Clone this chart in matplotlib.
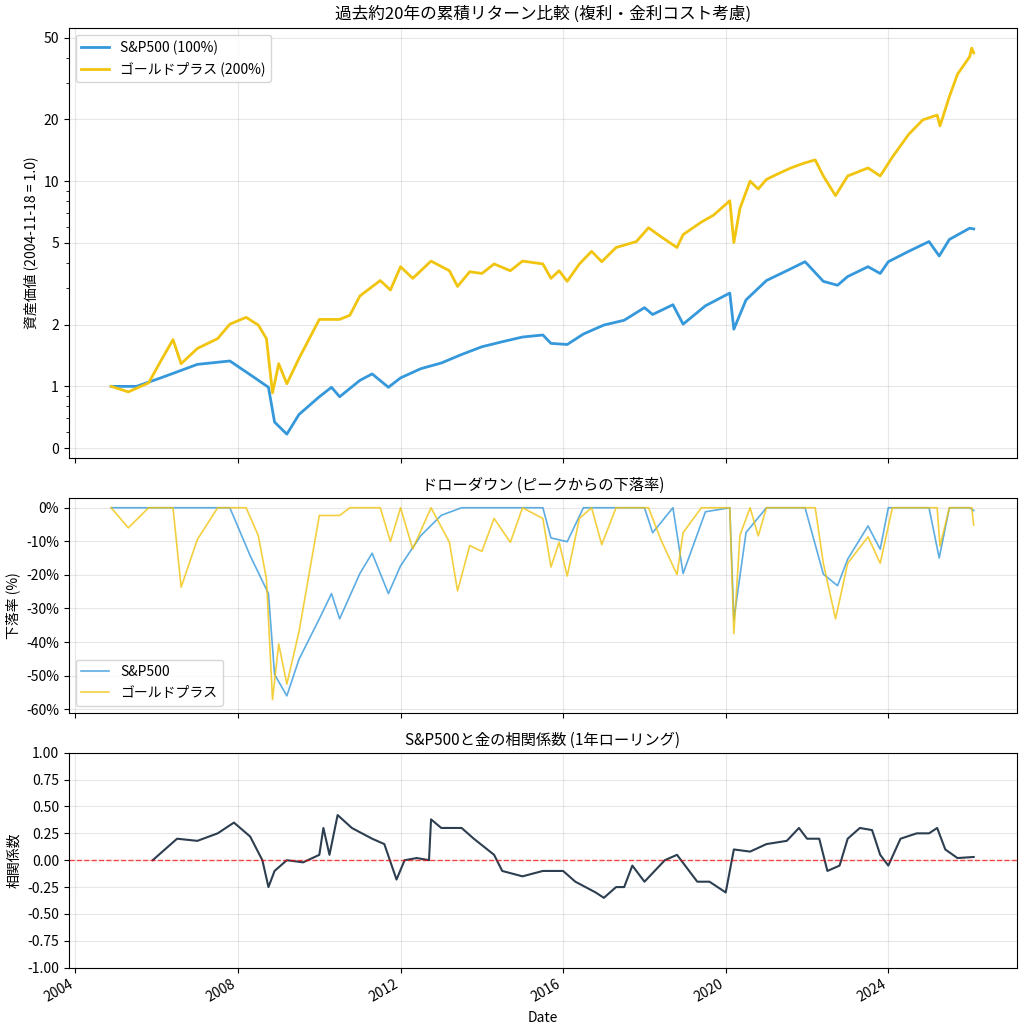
import numpy as np
import pandas as pd
import matplotlib
matplotlib.use("Agg")
import matplotlib.pyplot as plt
import matplotlib.ticker as mticker
import matplotlib.dates as mdates

plt.rcParams['font.family'] = ['Noto Sans CJK JP', 'DejaVu Sans']
plt.rcParams['axes.unicode_minus'] = False

sp_t = [2004.88, 2005.5, 2006.1, 2007.0, 2007.8, 2008.3, 2008.75, 2008.9, 2009.2, 2009.5, 2010.0, 2010.3,
        2010.5, 2011.0, 2011.3, 2011.7, 2012.0, 2012.5, 2013.0, 2013.5, 2014.0, 2014.5, 2015.0, 2015.5,
        2015.7, 2016.1, 2016.5, 2017.0, 2017.5, 2018.0, 2018.2, 2018.7, 2018.95, 2019.5, 2020.1, 2020.2,
        2020.5, 2021.0, 2021.5, 2021.95, 2022.4, 2022.75, 2023.0, 2023.5, 2023.8, 2024.0, 2024.5, 2025.0,
        2025.25, 2025.5, 2026.0, 2026.1]
sp_v = [1.0, 1.0, 1.10, 1.28, 1.33, 1.14, 0.99, 0.67, 0.585, 0.73, 0.89, 0.99,
        0.89, 1.07, 1.15, 0.99, 1.10, 1.22, 1.30, 1.43, 1.56, 1.65, 1.74, 1.78,
        1.62, 1.60, 1.80, 1.99, 2.10, 2.42, 2.24, 2.50, 2.01, 2.47, 2.85, 1.90,
        2.64, 3.28, 3.66, 4.05, 3.25, 3.11, 3.43, 3.83, 3.55, 4.05, 4.55, 5.08,
        4.32, 5.2, 5.9, 5.85]

gd_t = [2004.88, 2005.3, 2005.8, 2006.1, 2006.4, 2006.6, 2007.0, 2007.5, 2007.8, 2008.2, 2008.5, 2008.7,
        2008.85, 2009.0, 2009.2, 2009.5, 2010.0, 2010.5, 2010.75, 2011.0, 2011.5, 2011.75, 2012.0, 2012.3,
        2012.75, 2013.2, 2013.4, 2013.7, 2014.0, 2014.3, 2014.7, 2015.0, 2015.5, 2015.7, 2015.9, 2016.1,
        2016.4, 2016.7, 2016.95, 2017.3, 2017.8, 2018.1, 2018.4, 2018.8, 2018.95, 2019.4, 2019.7, 2020.1,
        2020.2, 2020.35, 2020.6, 2020.8, 2021.0, 2021.3, 2021.6, 2021.9, 2022.2, 2022.4, 2022.7, 2023.0,
        2023.5, 2023.8, 2024.1, 2024.5, 2024.85, 2025.2, 2025.27, 2025.5, 2025.7, 2026.0, 2026.05, 2026.1]
gd_v = [1.0, 0.94, 1.04, 1.33, 1.69, 1.29, 1.53, 1.71, 2.01, 2.17, 1.99, 1.71,
        0.93, 1.29, 1.03, 1.37, 2.12, 2.12, 2.22, 2.76, 3.28, 2.95, 3.83, 3.36,
        4.08, 3.66, 3.07, 3.62, 3.55, 3.95, 3.66, 4.08, 3.95, 3.36, 3.66, 3.25,
        3.95, 4.55, 4.05, 4.75, 5.08, 5.93, 5.37, 4.75, 5.49, 6.32, 6.83, 8.03,
        5.02, 7.37, 10.0, 9.16, 10.2, 10.9, 11.6, 12.2, 12.7, 10.6, 8.5, 10.6,
        11.6, 10.6, 13.1, 16.9, 19.9, 21.0, 18.6, 25.8, 33.2, 40.4, 44.5, 42.2]

corr_t = [2005.9, 2006.2, 2006.5, 2007.0, 2007.5, 2007.9, 2008.3, 2008.6, 2008.75, 2008.9, 2009.2, 2009.6,
          2010.0, 2010.1, 2010.25, 2010.45, 2010.8, 2011.3, 2011.6, 2011.9, 2012.1, 2012.4, 2012.7, 2012.75,
          2013.0, 2013.5, 2013.8, 2014.3, 2014.5, 2015.0, 2015.5, 2016.0, 2016.3, 2016.8, 2017.0, 2017.3,
          2017.5, 2017.7, 2018.0, 2018.5, 2018.8, 2019.0, 2019.3, 2019.6, 2020.0, 2020.2, 2020.6, 2021.0,
          2021.5, 2021.8, 2022.0, 2022.3, 2022.5, 2022.8, 2023.0, 2023.3, 2023.6, 2023.8, 2024.0, 2024.3,
          2024.7, 2025.0, 2025.2, 2025.4, 2025.7, 2026.1]
corr_v = [0.0, 0.1, 0.2, 0.18, 0.25, 0.35, 0.22, 0.0, -0.25, -0.1, 0.0, -0.02,
          0.05, 0.3, 0.05, 0.42, 0.3, 0.2, 0.15, -0.18, 0.0, 0.02, 0.0, 0.38,
          0.3, 0.3, 0.2, 0.05, -0.1, -0.15, -0.1, -0.1, -0.2, -0.3, -0.35, -0.25,
          -0.25, -0.05, -0.2, 0.0, 0.05, -0.05, -0.2, -0.2, -0.3, 0.1, 0.08, 0.15,
          0.18, 0.3, 0.2, 0.2, -0.1, -0.05, 0.2, 0.3, 0.28, 0.05, -0.05, 0.2,
          0.25, 0.25, 0.3, 0.1, 0.02, 0.03]

def to_dates(ts):
    return [pd.Timestamp(int(t), 1, 1) + pd.Timedelta(days=(t - int(t)) * 365.25) for t in ts]

sp_d, gd_d, corr_d = to_dates(sp_t), to_dates(gd_t), to_dates(corr_t)
sp_s = pd.Series(sp_v, index=sp_d)
gd_s = pd.Series(gd_v, index=gd_d)
sp_dd = (sp_s / sp_s.cummax() - 1) * 100
gd_dd = (gd_s / gd_s.cummax() - 1) * 100

blue, gold = '#3498db', '#f1c40f'
fig = plt.figure(figsize=(10.24, 10.24), dpi=100)
gs = fig.add_gridspec(3, 1, height_ratios=[2, 1, 1], left=0.067, right=0.993, top=0.973, bottom=0.055, hspace=0.14)
ax1 = fig.add_subplot(gs[0])
ax2 = fig.add_subplot(gs[1], sharex=ax1)
ax3 = fig.add_subplot(gs[2], sharex=ax1)

ax1.plot(sp_s.index, sp_s.values, color=blue, lw=2, label='S&P500 (100%)')
ax1.plot(gd_s.index, gd_s.values, color=gold, lw=2, label='ゴールドプラス (200%)')
ax1.set_yscale('log')
ax1.set_yticks([0.5, 1, 2, 5, 10, 20, 50])
ax1.yaxis.set_major_formatter(mticker.FuncFormatter(lambda x, p: f'{x:.0f}'))
ax1.set_ylim(0.45, 56)
ax1.set_ylabel('資産価値 (2004-11-18 = 1.0)')
ax1.set_title('過去約20年の累積リターン比較 (複利・金利コスト考慮)', fontsize=12)
ax1.legend(loc='upper left')
ax1.grid(True, alpha=0.3)

ax2.plot(sp_dd.index, sp_dd.values, color=blue, lw=1.2, alpha=0.8, label='S&P500')
ax2.plot(gd_dd.index, gd_dd.values, color=gold, lw=1.2, alpha=0.8, label='ゴールドプラス')
ax2.set_ylim(-61, 3)
ax2.set_yticks([0, -10, -20, -30, -40, -50, -60])
ax2.yaxis.set_major_formatter(mticker.FuncFormatter(lambda x, p: f'{x:.0f}%'))
ax2.set_ylabel('下落率 (%)')
ax2.set_title('ドローダウン (ピークからの下落率)', fontsize=11)
ax2.legend(loc='lower left')
ax2.grid(True, alpha=0.3)

ax3.plot(corr_d, corr_v, color='#2c3e50', lw=1.5)
ax3.axhline(0, color='red', ls='--', lw=1, alpha=0.7)
ax3.set_ylim(-1, 1)
ax3.set_yticks(np.arange(-1, 1.01, 0.25))
ax3.yaxis.set_major_formatter(mticker.FuncFormatter(lambda x, p: f'{x:.2f}'))
ax3.set_ylabel('相関係数')
ax3.set_xlabel('Date')
ax3.set_title('S&P500と金の相関係数 (1年ローリング)', fontsize=11)
ax3.grid(True, alpha=0.3)
ax3.xaxis.set_major_locator(mdates.YearLocator(4))
ax3.xaxis.set_major_formatter(mdates.DateFormatter('%Y'))
ax3.set_xlim(pd.Timestamp('2003-11-01'), pd.Timestamp('2027-03-01'))
plt.setp(ax1.get_xticklabels(), visible=False)
plt.setp(ax2.get_xticklabels(), visible=False)
plt.setp(ax3.get_xticklabels(), rotation=30, ha='right')

fig.savefig('out.png', dpi=100)
